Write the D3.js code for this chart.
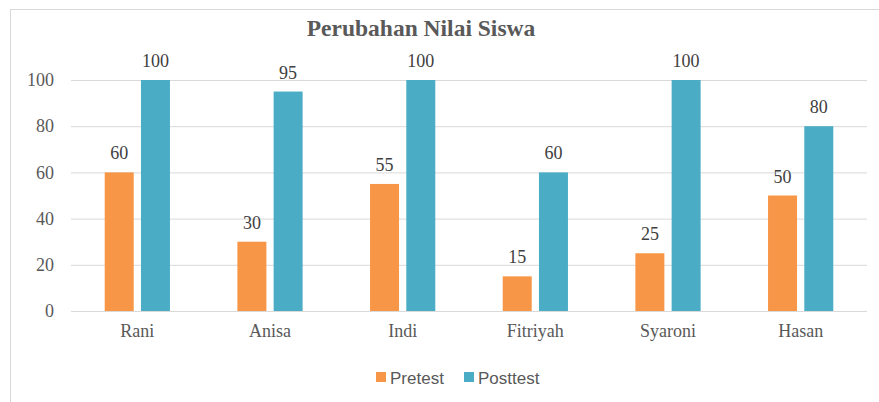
<!DOCTYPE html>
<html><head><meta charset="utf-8">
<script src="https://cdn.jsdelivr.net/npm/d3@7"></script>
<style>body{margin:0;background:#fff}svg{display:block}</style>
</head><body>
<script>
const categories = ["Rani","Anisa","Indi","Fitriyah","Syaroni","Hasan"];
const seriesNames = ["Pretest","Posttest"];
const pretest = [60,30,55,15,25,50];
const posttest = [100,95,100,60,100,80];
const yTicks = [0,20,40,60,80,100];
const colors = ["#F79646","#4BACC6"];

(function(){
const W=879,H=402;
const svg=d3.select("body").append("svg").attr("width",W).attr("height",H);
svg.append("rect").attr("x",10.5).attr("y",9.5).attr("width",880).attr("height",420)
  .attr("fill","#fff").attr("stroke","#d9d9d9");

const pL=71,pR=867,pT=80,pB=311;
const x=d3.scaleBand().domain(categories).range([pL,pR]);
const xs=d3.scaleBand().domain(seriesNames).range([0,x.bandwidth()]).paddingInner(0.2).paddingOuter(0.93);
const y=d3.scaleLinear().domain([0,100]).range([pB,pT]);

const serif="'Liberation Serif','Times New Roman',serif";
svg.append("g").selectAll("line").data(yTicks).join("line")
  .attr("x1",pL).attr("x2",pR).attr("y1",d=>y(d)+0.5).attr("y2",d=>y(d)+0.5)
  .attr("stroke","#d9d9d9").attr("stroke-width",1);

const yAxis=svg.append("g").attr("transform",`translate(${pL},0)`)
  .call(d3.axisLeft(y).tickValues(yTicks).tickSize(0).tickPadding(17));
yAxis.select(".domain").remove();
yAxis.attr("font-family",serif).attr("font-size",18);
yAxis.selectAll("text").attr("fill","#595959");

const xAxis=svg.append("g").attr("transform",`translate(0,${pB})`)
  .call(d3.axisBottom(x).tickSize(0).tickPadding(13));
xAxis.select(".domain").remove();
xAxis.attr("font-family",serif).attr("font-size",18);
xAxis.selectAll("text").attr("fill","#595959");

const data=[pretest,posttest];
seriesNames.forEach((s,si)=>{
  const g=svg.append("g");
  g.selectAll("rect").data(categories).join("rect")
    .attr("x",c=>x(c)+xs(s)).attr("width",xs.bandwidth())
    .attr("y",(c,i)=>y(data[si][i])).attr("height",(c,i)=>pB-y(data[si][i]))
    .attr("fill",colors[si]);
  g.selectAll("text").data(categories).join("text")
    .attr("x",c=>x(c)+xs(s)+xs.bandwidth()/2)
    .attr("y",(c,i)=>y(data[si][i])-13)
    .attr("text-anchor","middle").attr("font-family",serif).attr("font-size",18).attr("fill","#404040")
    .text((c,i)=>data[si][i]);
});

svg.append("text").attr("x",421).attr("y",36).attr("text-anchor","middle")
  .attr("font-family",serif).attr("font-weight","bold").attr("font-size",23.5).attr("fill","#595959")
  .text("Perubahan Nilai Siswa");

const sans="'Liberation Sans',Arial,sans-serif";
const leg=svg.append("g");
const lx=[376,464];
seriesNames.forEach((s,i)=>{
  leg.append("rect").attr("x",lx[i]).attr("y",372).attr("width",10).attr("height",10).attr("fill",colors[i]);
  leg.append("text").attr("x",lx[i]+14).attr("y",383.5).attr("font-family",sans).attr("font-size",17)
    .attr("fill","#595959").text(s);
});
})();
</script>
</body></html>
